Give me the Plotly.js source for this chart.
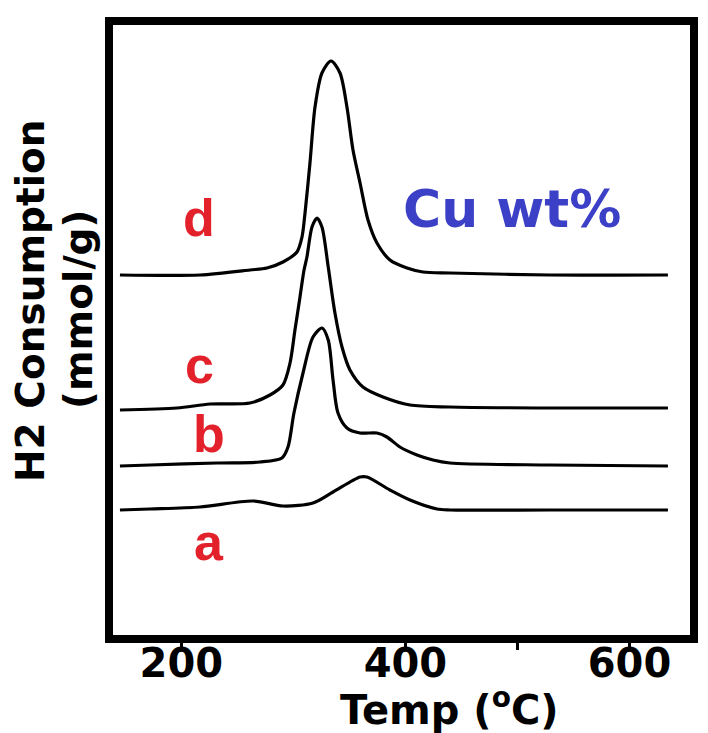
<!DOCTYPE html>
<html>
<head>
<meta charset="utf-8">
<script src="https://cdn.plot.ly/plotly-3.0.1.min.js"></script>
<style>html,body{margin:0;padding:0;background:#fff;}#chart{width:708px;height:733px;}</style>
</head>
<body>
<div id="chart"></div>
<script>
// Temperatures (°C) and H2 consumption signals (arbitrary offset units)
const tempA = [145.2,172.0,216.6,264.0,290.7,317.5,335.4,359.5,365.7,386.2,404.1,428.2,439.8,529.0,634.3];
const sigA  = [12.5,12.6,12.8,13.4,12.9,13.2,14.3,15.8,15.8,14.5,13.5,12.6,12.5,12.5,12.5];

const tempB = [145.2,172.0,231.8,270.2,289.8,295.2,300.5,308.6,317.5,325.5,331.1,335.4,339.8,347.8,359.5,374.6,383.5,395.1,410.3,424.6,439.8,529.0,634.3];
const sigB  = [16.9,17.0,17.2,17.3,17.7,18.8,22.2,26.2,29.8,30.7,29.5,25.5,22.2,20.7,20.2,20.2,19.8,18.8,18.0,17.5,17.2,17.0,16.9];

const tempC = [145.2,196.1,225.6,261.3,279.1,290.7,297.0,301.4,305.9,309.5,312.1,316.6,321.1,325.5,331.1,337.1,343.4,350.5,362.1,380.0,404.1,439.8,529.0,634.3];
const sigC  = [22.5,22.7,23.1,23.2,24.0,25.0,27.2,30.5,33.8,36.5,37.8,40.8,41.7,40.8,36.8,32.2,28.8,26.5,24.8,23.8,23.0,22.8,22.7,22.7];

const tempD = [145.2,216.6,261.3,276.4,290.7,303.2,307.7,310.4,314.8,319.3,325.5,333.6,341.6,347.8,353.2,359.5,366.6,374.6,386.2,401.4,415.7,439.8,529.0,634.3];
const sigD  = [36.0,36.0,36.5,36.7,37.3,38.3,39.8,42.2,47.2,52.8,56.2,57.4,56.2,52.8,48.5,45.2,41.5,39.2,37.5,36.7,36.3,36.2,36.0,36.0];

const curveLabels = ['a','b','c','d'];
const labelTemps  = [224.5, 224.5, 216.6, 216.0];
const labelSigs   = [9.3, 20.1, 27.0, 41.7];

const tickVals = [200, 400, 500, 600];
const tickText = ['200', '400', '', '600'];

const series = [[tempA,sigA],[tempB,sigB],[tempC,sigC],[tempD,sigD]];
const traces = series.map(([x,y]) => ({
  x: x, y: y, type: 'scatter', mode: 'lines',
  line: {color: '#000', width: 3.2, shape: 'spline', smoothing: 0.8},
  hoverinfo: 'skip', showlegend: false
}));

const wide = 'DejaVu Sans, Verdana, sans-serif';
const arial = 'Liberation Sans, Arial, sans-serif';
const annotations = curveLabels.map((t, i) => ({
  x: labelTemps[i], y: labelSigs[i], xref: 'x', yref: 'y', text: '<b>' + t + '</b>', showarrow: false,
  xanchor: 'center', yanchor: 'middle',
  font: {family: arial, size: 52, color: '#e3212b', weight: 'bold'}
}));
annotations.push({
  x: 0.691, y: 0.698, xref: 'paper', yref: 'paper', text: '<b>Cu wt%</b>', showarrow: false,
  xanchor: 'center', yanchor: 'middle',
  font: {family: wide, size: 52, color: '#3b40c6', weight: 'bold'}
});
annotations.push({
  x: -0.1438, y: 0.5475, xref: 'paper', yref: 'paper', text: '<b>H2 Consumption</b>',
  showarrow: false, textangle: -90, xanchor: 'center', yanchor: 'middle',
  font: {family: wide, size: 39, color: '#000', weight: 'bold'}
});
annotations.push({
  x: -0.0589, y: 0.533, xref: 'paper', yref: 'paper', text: '<b>(mmol/g)</b>',
  showarrow: false, textangle: -90, xanchor: 'center', yanchor: 'middle',
  font: {family: wide, size: 39, color: '#000', weight: 'bold'}
});
annotations.push({
  x: 0.583, y: -0.118, xref: 'paper', yref: 'paper', text: '<b>Temp (<sup>o</sup>C)</b>',
  showarrow: false, xanchor: 'center', yanchor: 'middle',
  font: {family: wide, size: 40, color: '#000', weight: 'bold'}
});

const layout = {
  width: 708, height: 733,
  margin: {l: 113, r: 18, t: 25, b: 98},
  paper_bgcolor: '#fff', plot_bgcolor: '#fff',
  xaxis: {
    range: [139, 654], showgrid: false, zeroline: false,
    showline: true, mirror: true, linecolor: '#000', linewidth: 8,
    tickmode: 'array', tickvals: tickVals, ticktext: tickText,
    ticks: 'outside', ticklen: 7, tickwidth: 3, tickcolor: '#000',
    ticklabelstandoff: -21,
    tickfont: {family: wide, size: 40, color: '#000', weight: 'bold'}
  },
  yaxis: {
    range: [0, 61], showgrid: false, zeroline: false,
    showline: true, mirror: true, linecolor: '#000', linewidth: 8,
    showticklabels: false, ticks: ''
  },
  annotations: annotations
};

Plotly.newPlot('chart', traces, layout, {displayModeBar: false, staticPlot: true});
</script>
</body>
</html>
